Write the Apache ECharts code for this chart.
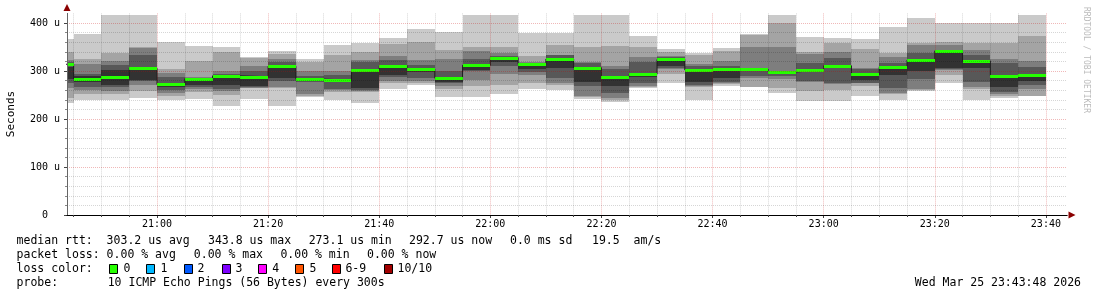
<!DOCTYPE html>
<html><head><meta charset="utf-8">
<script src="https://cdn.jsdelivr.net/npm/echarts@6/dist/echarts.min.js"></script>
<style>html,body{margin:0;padding:0;background:#fff}#c{width:1097px;height:297px}</style>
</head><body><div id="c"></div><script>
// ---- data ----
const axisStart = '20:43:48';
const axisEnd = '23:43:48';
const stepMinutes = 5;
const barStart = ['20:40','20:45','20:50','20:55','21:00','21:05','21:10','21:15','21:20','21:25','21:30','21:35',
  '21:40','21:45','21:50','21:55','22:00','22:05','22:10','22:15','22:20','22:25','22:30','22:35',
  '22:40','22:45','22:50','22:55','23:00','23:05','23:10','23:15','23:20','23:25','23:30','23:35'];
// 10 sorted ping rtts per step (microseconds)
const pingsSorted = [
  [233,244,264,275,283,309,318,323,339,367],
  [240,252,260,267,278,290,294,315,325,378],
  [240,252,259,267,271,302,312,321,338,417],
  [244,258,270,279,281,305,333,348,350,417],
  [240,248,255,260,266,276,287,295,304,360],
  [241,256,262,266,271,284,286,288,321,352],
  [227,250,258,262,271,290,294,299,340,349],
  [241,264,265,266,269,290,299,311,327,330],
  [227,264,267,280,286,306,318,324,335,342],
  [246,247,253,278,279,283,290,300,319,325],
  [240,256,260,263,281,283,292,300,334,355],
  [234,257,258,260,264,300,319,323,339,358],
  [263,274,280,287,292,309,323,331,356,368],
  [271,274,280,285,298,301,312,323,360,388],
  [246,262,268,274,278,283,301,325,344,381],
  [246,269,281,301,303,310,326,342,349,417],
  [253,271,294,311,318,326,332,337,349,417],
  [262,274,292,298,304,312,316,319,331,379],
  [260,271,274,286,306,323,333,334,355,380],
  [241,245,248,269,278,305,317,318,349,417],
  [236,240,244,254,269,284,304,310,352,417],
  [264,266,269,274,288,292,319,330,349,373],
  [276,294,305,307,311,321,330,331,339,345],
  [240,266,268,271,278,299,310,315,333,338],
  [269,273,276,278,285,301,310,321,342,347],
  [266,267,286,290,300,304,306,350,375,378],
  [255,264,284,290,295,299,301,351,400,417],
  [238,259,277,280,300,305,317,336,340,371],
  [238,260,272,275,308,312,328,340,359,369],
  [248,269,274,276,281,291,304,306,346,367],
  [240,253,255,264,292,306,316,330,337,392],
  [259,261,262,284,301,320,337,354,359,410],
  [276,292,302,304,306,339,344,354,360,399],
  [240,262,267,278,306,319,333,344,359,399],
  [244,247,252,257,266,292,317,326,358,399],
  [247,248,262,270,280,292,309,321,373,417]
];
const median = [314,284,287,306,272,284,290,288,310,283,281,302,311,304,285,312,328,314,325,307,288,293,324,302,
  304,304,298,302,311,293,309,323,342,321,290,292];
const xTickLabels = ['21:00','21:20','21:40','22:00','22:20','22:40','23:00','23:20','23:40'];
const yTickValues = [0,100,200,300,400];
const yMinorValues = [20,40,60,80,120,140,160,180,220,240,260,280,320,340,360,380];
const yMax = 420;
const smokeColors = ['#cacaca','#a4a4a4','#7e7e7e','#585858','#323232'];
const medianColor = '#26ff00';
const lossLabels = ['0','1','2','3','4','5','6-9','10/10'];
const lossColors = ['#26ff00','#00b8ff','#0059ff','#7e00ff','#ff00ff','#ff5500','#ff0000','#a10000'];
const rttLine = ['median rtt:  303.2 us avg','343.8 us max','273.1 us min','292.7 us now','0.0 ms sd','19.5  am/s'];
const lossLine = ['packet loss: 0.00 % avg','0.00 % max','0.00 % min','0.00 % now'];
const probeText = ['probe:','10 ICMP Echo Pings (56 Bytes) every 300s'];
const dateText = 'Wed Mar 25 23:43:48 2026';

// ---- helpers ----
function toMin(s){const p=s.split(':').map(Number);return p[0]*60+p[1]+(p[2]||0)/60;}
function fmt(m){const h=Math.floor(m/60),mm=Math.round(m%60);return String(h).padStart(2,'0')+':'+String(mm).padStart(2,'0');}
const xMin = toMin(axisStart), xMax = toMin(axisEnd);
const xMajor = xTickLabels.map(toMin);
const allSteps = barStart.map(toMin).concat([toMin(barStart[barStart.length-1])+stepMinutes]);
const xMinor = allSteps.filter(v => v > xMin && v < xMax && xMajor.indexOf(v) < 0);

const smokeData = barStart.map((s,i)=>[toMin(s), toMin(s)+stepMinutes].concat(pingsSorted[i]).concat([median[i]]));
const stepLine = barStart.map((s,i)=>[toMin(s), median[i]]);
stepLine.push([toMin(barStart[barStart.length-1])+stepMinutes, median[median.length-1]]);

function xr(params, api){
  const cs = params.coordSys;
  const x0 = Math.round(Math.max(api.coord([api.value(0),0])[0], cs.x));
  const x1 = Math.round(Math.min(api.coord([api.value(1),0])[0], cs.x+cs.width));
  return [x0,x1,cs];
}
function smokeItem(params, api){
  const [x0,x1,cs] = xr(params, api);
  if (x1 <= x0) return;
  const children = [];
  for (let k=0;k<5;k++){
    const yT = Math.round(Math.max(api.coord([api.value(0), api.value(11-k)])[1], cs.y));
    const yB = Math.round(api.coord([api.value(0), api.value(2+k)])[1]);
    children.push({type:'rect', shape:{x:x0,y:yT,width:x1-x0,height:Math.max(0,yB-yT)}, style:{fill:smokeColors[k]}});
  }
  return {type:'group', children};
}
function medItem(params, api){
  const [x0,x1] = xr(params, api);
  if (x1 <= x0) return;
  const y = Math.round(api.coord([api.value(0), api.value(12)])[1]);
  return {type:'rect', shape:{x:x0,y:y-1,width:x1-x0,height:3}, style:{fill:medianColor}};
}

const MONO = '"DejaVu Sans Mono", monospace';
const legendFont = '11.5px ' + MONO;
const graphics = [];
function txt(x,y,t,opt){
  opt = opt||{};
  graphics.push({type:'text', x, y, rotation: opt.rot||0, z:10, silent:true,
    style:{text:t, font: opt.font||legendFont, fill: opt.fill||'#000', align: opt.align||'left', verticalAlign:'middle'}});
}
const rttX = [16.6,208,308.7,409,510,592];
rttLine.forEach((t,i)=>txt(rttX[i],241,t));
const lossX = [16.6,193.8,280.4,367];
lossLine.forEach((t,i)=>txt(lossX[i],255,t));
txt(16.6,269,'loss color:');
const boxX = [109,146,184,221.6,258,295,332,383.6];
const lblX = [123.4,160.6,197.4,235.5,272.3,309.6,345.4,397.5];
lossLabels.forEach((l,i)=>{
  graphics.push({type:'rect', z:10, silent:true, shape:{x:Math.round(boxX[i])+0.5,y:264.5,width:8,height:9},
    style:{fill:lossColors[i], stroke:'#000', lineWidth:1}});
  txt(lblX[i],269,l);
});
txt(16.6,283,probeText[0]);
txt(107.7,283,probeText[1]);
txt(1081,283,dateText,{align:'right'});
txt(11,114,'Seconds',{rot:Math.PI/2, align:'center', font:'11px '+MONO});
txt(1086.5,60,'RRDTOOL / TOBI OETIKER',{rot:-Math.PI/2, align:'center', font:'8px '+MONO, fill:'#bbbbbb'});

const minorGrid = {show:true, lineStyle:{color:'rgba(0,0,0,0.16)', width:1, type:[1,1]}};
const majorGrid = {show:true, lineStyle:{color:'rgba(200,0,0,0.28)', width:1, type:[1,1]}};
const axisFont = {fontFamily:'DejaVu Sans Mono', fontSize:10, color:'#000'};

const chart = echarts.init(document.getElementById('c'), null, {renderer:'canvas'});
chart.setOption({
  animation:false,
  backgroundColor:'#fff',
  grid:{left:67, right:30, top:13.4, bottom:82, containLabel:false},
  xAxis:[
    {type:'value', min:xMin, max:xMax, z:6, position:'bottom',
     axisLine:{show:true, onZero:false, lineStyle:{color:'#000', width:1}},
     axisTick:{show:true, customValues:xMinor, length:2, lineStyle:{color:'#444'}},
     axisLabel:{show:false}, splitLine:minorGrid},
    {type:'value', min:xMin, max:xMax, z:5, position:'bottom',
     axisLine:{show:true, onZero:false, symbol:['none','triangle'], symbolSize:[7,7], symbolOffset:[0,5], lineStyle:{color:'#8b0000', width:1}},
     axisTick:{show:true, customValues:xMajor, length:3, lineStyle:{color:'#444'}},
     axisLabel:Object.assign({show:true, customValues:xMajor, margin:4, formatter:v=>fmt(v)}, axisFont),
     splitLine:majorGrid}
  ],
  yAxis:[
    {type:'value', min:0, max:yMax, z:6, position:'left',
     axisLine:{show:true, onZero:false, lineStyle:{color:'#666', width:1}},
     axisTick:{show:true, customValues:yMinorValues, length:2, lineStyle:{color:'#888'}},
     axisLabel:{show:false}, splitLine:minorGrid},
    {type:'value', min:0, max:yMax, z:5, position:'left',
     axisLine:{show:true, onZero:false, symbol:['none','triangle'], symbolSize:[7,7], symbolOffset:[0,6], lineStyle:{color:'#8b0000', width:1}},
     axisTick:{show:true, customValues:yTickValues, length:3, lineStyle:{color:'#444'}},
     axisLabel:Object.assign({show:true, customValues:yTickValues, margin:7, formatter:v=> v===0 ? '0  ' : v+' u'}, axisFont),
     splitLine:majorGrid}
  ],
  series:[
    {type:'custom', name:'smoke', xAxisIndex:0, yAxisIndex:0, z:2, renderItem:smokeItem, data:smokeData,
     encode:{x:[0,1], y:[2,3,4,5,6,7,8,9,10,11,12]}, silent:true},
    {type:'line', name:'median step', xAxisIndex:0, yAxisIndex:0, z:3, step:'end', symbol:'none', data:stepLine,
     lineStyle:{color:'#202020', width:1}, silent:true},
    {type:'custom', name:'median', xAxisIndex:0, yAxisIndex:0, z:4, renderItem:medItem, data:smokeData,
     encode:{x:[0,1], y:[12]}, silent:true}
  ],
  graphic: graphics
});
</script></body></html>
